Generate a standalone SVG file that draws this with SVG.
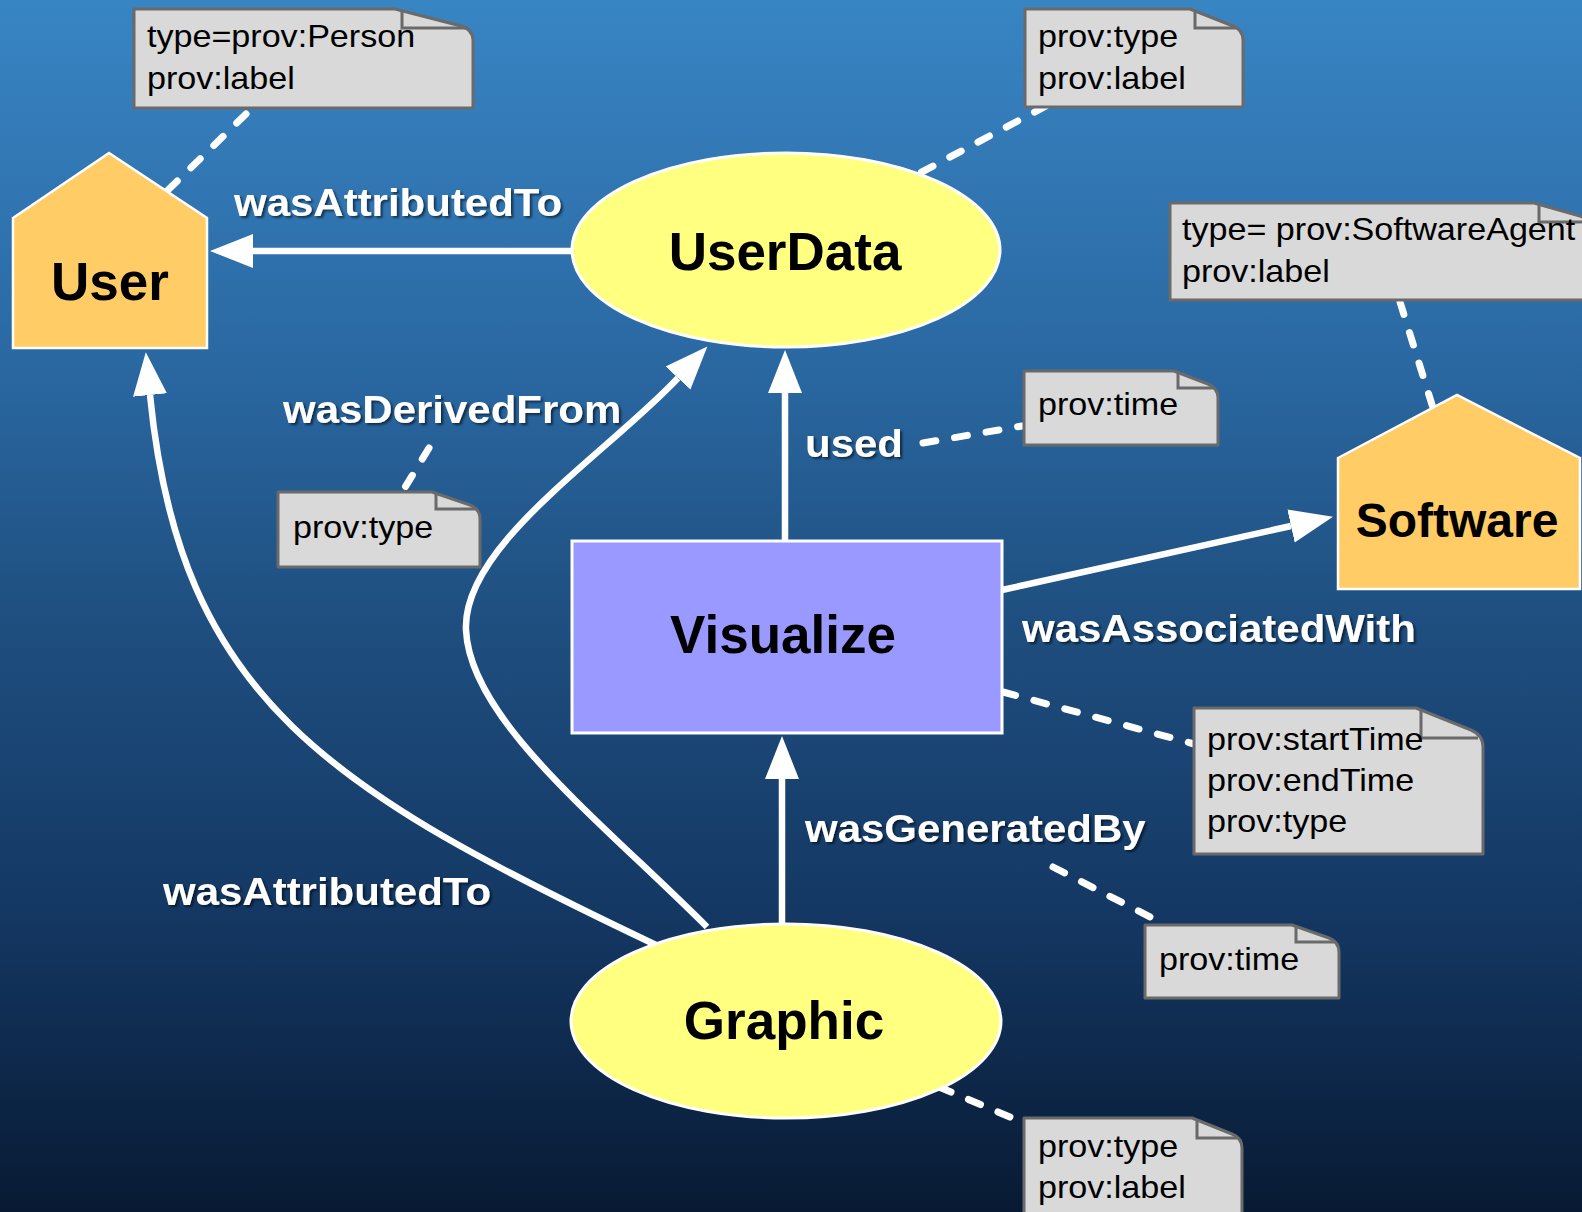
<svg xmlns="http://www.w3.org/2000/svg" width="1582" height="1212" viewBox="0 0 1582 1212">
  <defs>
    <linearGradient id="bg" x1="0" y1="0" x2="0" y2="1">
      <stop offset="0" stop-color="#3885c4"/>
      <stop offset="0.3" stop-color="#2a68a2"/>
      <stop offset="0.5" stop-color="#1f5081"/>
      <stop offset="0.75" stop-color="#143864"/>
      <stop offset="1" stop-color="#081a33"/>
    </linearGradient>
    <marker id="arrow" markerUnits="userSpaceOnUse" markerWidth="46" markerHeight="38" viewBox="0 -19 46 38" refX="0" refY="0" orient="auto">
      <path d="M0,-17 L43,0 L0,17 Z" fill="#ffffff"/>
    </marker>
    <filter id="shadow" x="-5%" y="-20%" width="110%" height="150%">
      <feDropShadow dx="2" dy="2" stdDeviation="1" flood-color="#000000" flood-opacity="0.55"/>
    </filter>
  </defs>
  <style>
    .agent { fill: #ffcc66; stroke: #ffffff; stroke-width: 2.5; }
    .entity { fill: #ffff80; stroke: #ffffff; stroke-width: 3; }
    .activity { fill: #9999ff; stroke: #ffffff; stroke-width: 3; }
    .node-label { font-family: "Liberation Sans", Arial, sans-serif; font-weight: bold; font-size: 53px; fill: #000000; text-anchor: middle; }
    .note { fill: #d9d9d9; stroke: #6a6a6a; stroke-width: 3; stroke-linejoin: round; }
    .fold { fill: none; stroke: #6a6a6a; stroke-width: 3; }
    .note-text { font-family: "Liberation Sans", Arial, sans-serif; font-size: 31px; fill: #000000; }
    .edge { fill: none; stroke: #ffffff; stroke-width: 6.5; }
    .dash { fill: none; stroke: #ffffff; stroke-width: 7; stroke-linecap: round; stroke-dasharray: 13 19; }
    .edge-label { font-family: "Liberation Sans", Arial, sans-serif; font-weight: bold; font-size: 38px; fill: #ffffff; filter: url(#shadow); }
  </style>

  <rect x="0" y="0" width="1582" height="1212" fill="url(#bg)"/>

  <!-- connectors: relations and note attachments -->
  <g id="connectors">
    <path class="edge" d="M572,251 H253" marker-end="url(#arrow)"/>
    <path class="edge" d="M785,541 V393" marker-end="url(#arrow)"/>
    <path class="edge" d="M782,923 V779" marker-end="url(#arrow)"/>
    <path class="edge" d="M1002,590 L1291,526" marker-end="url(#arrow)"/>
    <path class="edge" d="M656,945 C330,790 180,700 150,395" marker-end="url(#arrow)"/>
    <path class="edge" d="M707,927 C600,820 470,720 466,630 C462,545 608,453 678,378" marker-end="url(#arrow)"/>

    <path class="dash" d="M246,114 L165,193"/>
    <path class="dash" d="M1046,106 L918,174"/>
    <path class="dash" d="M1400,302 L1433,408"/>
    <path class="dash" d="M923,443 L1022,426"/>
    <path class="dash" d="M429,448 L404,489"/>
    <path class="dash" d="M1003,692 L1194,744"/>
    <path class="dash" d="M1053,867 L1156,920"/>
    <path class="dash" d="M939,1087 L1017,1120"/>

    <text class="edge-label" transform="translate(234 216) scale(1.105 1)">wasAttributedTo</text>
    <text class="edge-label" transform="translate(283 423) scale(1.105 1)">wasDerivedFrom</text>
    <text class="edge-label" transform="translate(805 457) scale(1.105 1)">used</text>
    <text class="edge-label" transform="translate(1022 642) scale(1.105 1)">wasAssociatedWith</text>
    <text class="edge-label" transform="translate(805 842) scale(1.105 1)">wasGeneratedBy</text>
    <text class="edge-label" transform="translate(163 905) scale(1.105 1)">wasAttributedTo</text>
  </g>

  <!-- agents -->
  <g id="user">
    <path class="agent" d="M13,218 L109,153 L207,218 V348 H13 Z"/>
    <text class="node-label" x="110" y="300">User</text>
  </g>
  <g id="software">
    <path class="agent" d="M1338,458 L1457,395 L1580,458 V589 H1338 Z"/>
    <text class="node-label" x="1457" y="537" style="font-size:48px">Software</text>
  </g>

  <!-- entities -->
  <g id="userdata">
    <ellipse class="entity" cx="786" cy="250" rx="214" ry="97"/>
    <text class="node-label" x="785" y="270">UserData</text>
  </g>
  <g id="graphic">
    <ellipse class="entity" cx="786" cy="1021" rx="215" ry="97"/>
    <text class="node-label" x="784" y="1039">Graphic</text>
  </g>

  <!-- activity -->
  <g id="visualize">
    <rect class="activity" x="572" y="541" width="430" height="192"/>
    <text class="node-label" x="783" y="653">Visualize</text>
  </g>

  <!-- attribute notes -->
  <g id="note-user">
    <path class="note" d="M134,9 H395 L461,26 Q473,30 473,40 V108 H134 Z"/>
    <path class="fold" d="M402,10 V28 H468"/>
    <text class="note-text" transform="translate(147 47) scale(1.1 1)">type=prov:Person</text>
    <text class="note-text" transform="translate(147 89) scale(1.1 1)">prov:label</text>
  </g>
  <g id="note-userdata">
    <path class="note" d="M1025,9 H1190 L1233,26 Q1243,30 1243,40 V107 H1025 Z"/>
    <path class="fold" d="M1195,10 V28 H1238"/>
    <text class="note-text" transform="translate(1038 47) scale(1.1 1)">prov:type</text>
    <text class="note-text" transform="translate(1038 89) scale(1.1 1)">prov:label</text>
  </g>
  <g id="note-software">
    <path class="note" d="M1170,203 H1534 L1580,216 Q1592,220 1592,230 V300 H1170 Z"/>
    <path class="fold" d="M1539,204 V222 H1590"/>
    <text class="note-text" transform="translate(1182 240) scale(1.1 1)">type= prov:SoftwareAgent</text>
    <text class="note-text" transform="translate(1182 282) scale(1.1 1)">prov:label</text>
  </g>
  <g id="note-used">
    <path class="note" d="M1024,371 H1174 L1208,384 Q1218,388 1218,398 V445 H1024 Z"/>
    <path class="fold" d="M1178,372 V388 H1214"/>
    <text class="note-text" transform="translate(1038 415) scale(1.1 1)">prov:time</text>
  </g>
  <g id="note-derivation">
    <path class="note" d="M278,492 H432 L470,505 Q480,509 480,519 V567 H278 Z"/>
    <path class="fold" d="M436,493 V509 H476"/>
    <text class="note-text" transform="translate(293 538) scale(1.1 1)">prov:type</text>
  </g>
  <g id="note-visualize">
    <path class="note" d="M1194,708 H1416 L1471,730 Q1483,735 1483,747 V854 H1194 Z"/>
    <path class="fold" d="M1421,709 V738 H1478"/>
    <text class="note-text" transform="translate(1207 750) scale(1.1 1)">prov:startTime</text>
    <text class="note-text" transform="translate(1207 791) scale(1.1 1)">prov:endTime</text>
    <text class="note-text" transform="translate(1207 832) scale(1.1 1)">prov:type</text>
  </g>
  <g id="note-generation">
    <path class="note" d="M1145,925 H1292 L1329,938 Q1339,942 1339,952 V998 H1145 Z"/>
    <path class="fold" d="M1296,926 V942 H1335"/>
    <text class="note-text" transform="translate(1159 970) scale(1.1 1)">prov:time</text>
  </g>
  <g id="note-graphic">
    <path class="note" d="M1024,1118 H1192 L1232,1134 Q1242,1138 1242,1148 V1240 H1024 Z"/>
    <path class="fold" d="M1197,1119 V1138 H1238"/>
    <text class="note-text" transform="translate(1038 1157) scale(1.1 1)">prov:type</text>
    <text class="note-text" transform="translate(1038 1198) scale(1.1 1)">prov:label</text>
  </g>
</svg>
